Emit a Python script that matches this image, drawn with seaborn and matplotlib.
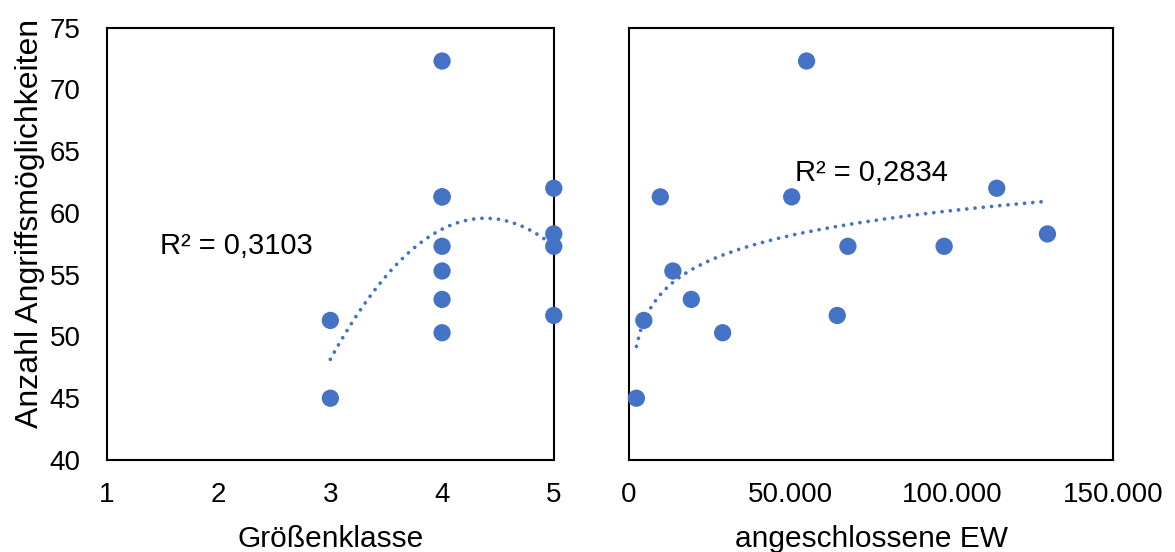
import numpy as np
import pandas as pd
import seaborn as sns
import matplotlib.pyplot as plt
from matplotlib.ticker import FuncFormatter

# Anzahl Angriffsmöglichkeiten je Anlage
angriffe = [45.0, 51.3, 61.3, 55.3, 53.0, 50.3, 61.3, 72.3, 51.7, 57.3, 57.3, 62.0, 58.3]
# Größenklasse je Anlage
groessenklasse = [3, 3, 4, 4, 4, 4, 4, 4, 5, 4, 5, 5, 5]
# angeschlossene Einwohnerwerte je Anlage
einwohner = [2300, 4600, 9700, 13600, 19300, 29000, 50400, 55000, 64500, 67800, 97600, 113900, 129600]

x_ticks_left = [1, 2, 3, 4, 5]
x_ticks_right = [0, 50000, 100000, 150000]
y_ticks = [40, 45, 50, 55, 60, 65, 70, 75]
r2_labels = ["R² = 0,3103", "R² = 0,2834"]

df = pd.DataFrame({"klasse": groessenklasse, "ew": einwohner, "angriffe": angriffe})

sns.set_theme(style="white")
plt.rcParams["font.family"] = ["Liberation Sans", "DejaVu Sans"]
plt.rcParams["text.color"] = "black"
plt.rcParams["axes.labelcolor"] = "black"

blue = "#4472C4"
fs_tick = 20
fs_xlabel = 21.5
fs_ylabel = 23
fs_r2 = 21

fig = plt.figure(figsize=(11.75, 5.52), dpi=100)
ax1 = fig.add_axes([0.0910, 0.1667, 0.3803, 0.7832])
ax2 = fig.add_axes([0.5353, 0.1667, 0.4122, 0.7832], sharey=ax1)

trend_kws = dict(color=blue, linewidth=2.7, linestyle=(0, (0.01, 2.2)),
                 dash_capstyle="round", zorder=2)

# Größenklasse: polynomischer Trend 2. Ordnung
sns.regplot(data=df, x="klasse", y="angriffe", order=2, ci=None, scatter=False,
            line_kws=trend_kws, ax=ax1)
sns.scatterplot(data=df, x="klasse", y="angriffe", color=blue, s=155,
                edgecolor="none", clip_on=False, zorder=3, ax=ax1)

# angeschlossene EW: logarithmischer Trend
sns.regplot(data=df, x="ew", y="angriffe", logx=True, ci=None, scatter=False,
            line_kws=trend_kws, ax=ax2)
sns.scatterplot(data=df, x="ew", y="angriffe", color=blue, s=155,
                edgecolor="none", clip_on=False, zorder=3, ax=ax2)

ax1.set_xlim(1, 5)
ax1.set_xticks(x_ticks_left)
ax2.set_xlim(0, 150000)
ax2.set_xticks(x_ticks_right)
ax2.xaxis.set_major_formatter(FuncFormatter(lambda v, p: f"{int(v):,}".replace(",", ".")))
ax1.set_ylim(40, 75)
ax1.set_yticks(y_ticks)

ax1.set_xlabel("Größenklasse", fontsize=fs_xlabel, labelpad=12)
ax2.set_xlabel("angeschlossene EW", fontsize=fs_xlabel, labelpad=12)
ax1.set_ylabel("Anzahl Angriffsmöglichkeiten", fontsize=fs_ylabel)
ax1.yaxis.set_label_coords(-0.138, 0.548)
ax2.set_ylabel("")

for ax in (ax1, ax2):
    ax.tick_params(axis="x", length=0, labelsize=fs_tick, colors="black", pad=16)
    ax.tick_params(axis="y", length=0, labelsize=fs_tick, colors="black", pad=19)
    for sp in ax.spines.values():
        sp.set_color("black")
        sp.set_linewidth(1.5)
ax2.tick_params(axis="y", labelleft=False)

ax1.text(1.475, 57.3, r2_labels[0], fontsize=fs_r2, ha="left", va="center")
ax2.text(51400, 63.2, r2_labels[1], fontsize=fs_r2, ha="left", va="center")

fig.savefig("out.png", dpi=100)
